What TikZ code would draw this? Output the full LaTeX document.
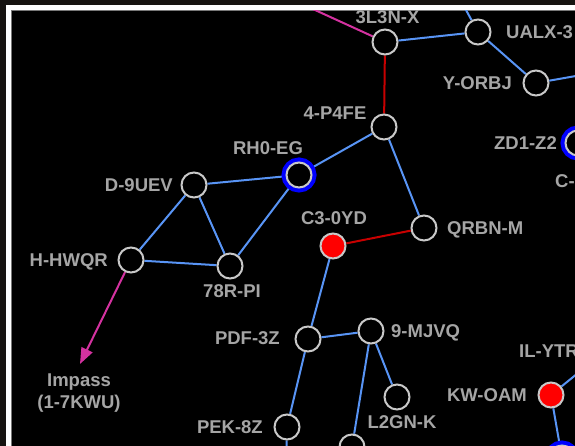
\documentclass[tikz,border=0pt]{standalone}
\usepackage{fontspec}
\setmainfont{Liberation Sans}
\usetikzlibrary{arrows.meta}
\definecolor{outerbg}{RGB}{22,19,16}
\definecolor{framegray}{RGB}{120,120,120}
\definecolor{edgeblue}{RGB}{88,148,245}
\definecolor{edgered}{RGB}{200,0,0}
\definecolor{edgemag}{RGB}{212,50,160}
\definecolor{nodegray}{RGB}{200,200,200}
\definecolor{labelgray}{RGB}{165,165,165}
\definecolor{hubblue}{RGB}{0,0,255}
\definecolor{alertred}{RGB}{255,0,0}
\pgfdeclarelayer{bg}
\pgfsetlayers{bg,main}
\tikzset{
  sys/.style={circle, draw=nodegray, line width=2pt, fill=black, minimum size=25pt, inner sep=0pt},
  alert/.style={sys, fill=alertred},
  hub/.style={sys, preaction={draw=hubblue, line width=10pt}},
  lbl/.style={text=labelgray, font=\bfseries\fontsize{18.5}{22}\selectfont, inner sep=0pt, text height=13.2pt, text depth=0pt},
  link/.style={edgeblue, line width=2pt},
  redlink/.style={edgered, line width=2pt},
  maglink/.style={edgemag, line width=2pt},
}
\begin{document}
\begin{tikzpicture}[x=1pt,y=-1pt]
\useasboundingbox (0,0) rectangle (575,446);
\clip (0,0) rectangle (575,446);
% nodes
\node[sys] (n3l3n) at (385,42) {};
\node[sys] (nualx) at (478,32) {};
\node[sys] (nyorbj) at (536,83) {};
\node[sys] (n4p4fe) at (384,127) {};
\node[hub] (nrh0) at (299,175) {};
\node[hub] (nzd1) at (578,143) {};
\node[sys] (nd9uev) at (194,185) {};
\node[sys] (nqrbn) at (424,228) {};
\node[alert] (nc30yd) at (333,246) {};
\node[sys] (nhhwqr) at (131,260) {};
\node[sys] (n78r) at (230,266) {};
\node[sys] (npdf) at (308,339) {};
\node[sys] (n9mjvq) at (371,331) {};
\node[sys] (nl2gn) at (397,397) {};
\node[sys] (npek) at (287,427) {};
\node[sys] (nbot) at (352,447) {};
\node[alert] (nkwoam) at (551,395) {};
\node[hub] (nbothub) at (562,458) {};
\node[sys] (nilytr) at (594,360) {};
\coordinate (ctop) at (280,-6);
\coordinate (cualx) at (460,-1);
\coordinate (cyorbj) at (610,70);
\coordinate (cpek) at (286,480);
\coordinate (cimpass) at (80,364);
% labels
\node[lbl] (t3l3n) at (387.5,17) {3L3N-X};
\node[lbl, anchor=west] (tualx) at (506,32) {UALX-3};
\node[lbl, anchor=east] (tyorbj) at (512,83) {Y-ORBJ};
\node[lbl] (t4p4fe) at (335,113) {4-P4FE};
\node[lbl] (trh0) at (268,148) {RH0-EG};
\node[lbl, anchor=east] (tzd1) at (557,143) {ZD1-Z2};
\node[lbl, anchor=west] (tc) at (555,181) {C-};
\node[lbl, anchor=east] (td9uev) at (173,185) {D-9UEV};
\node[lbl, anchor=west] (tqrbn) at (447,228) {QRBN-M};
\node[lbl] (tc30yd) at (334,218) {C3-0YD};
\node[lbl, anchor=east] (thhwqr) at (108,260) {H-HWQR};
\node[lbl] (t78r) at (232,291) {78R-PI};
\node[lbl, anchor=east] (tpdf) at (280,338) {PDF-3Z};
\node[lbl, anchor=west] (t9mjvq) at (391,331) {9-MJVQ};
\node[lbl] (tl2gn) at (402,422) {L2GN-K};
\node[lbl, anchor=east] (tpek) at (263,427) {PEK-8Z};
\node[lbl, anchor=west] (tilytr) at (519,351) {IL-YTR};
\node[lbl, anchor=east] (tkwoam) at (527,395) {KW-OAM};
\node[lbl, align=center] (timpass) at (79,402) {Impass\\(1-7KWU)};
% background and edges
\begin{pgfonlayer}{bg}
\fill[outerbg] (0,0) rectangle (575,446);
\fill[white] (6,5) rectangle (600,470);
\fill[framegray] (11,10) rectangle (600,470);
\fill[black] (12,11) rectangle (600,470);
\begin{scope}
\clip (12,11) rectangle (600,470);
\draw[maglink] (n3l3n) -- (ctop);
\draw[link] (nualx) -- (cualx);
\draw[link] (n3l3n) -- (nualx);
\draw[redlink] (n3l3n) -- (n4p4fe);
\draw[link] (nualx) -- (nyorbj);
\draw[link] (nyorbj) -- (cyorbj);
\draw[link] (n4p4fe) -- (nrh0);
\draw[link] (n4p4fe) -- (nqrbn);
\draw[redlink] (nqrbn) -- (nc30yd);
\draw[link] (nrh0) -- (nd9uev);
\draw[link] (nrh0) -- (n78r);
\draw[link] (nd9uev) -- (nhhwqr);
\draw[link] (nd9uev) -- (n78r);
\draw[link] (nhhwqr) -- (n78r);
\draw[link] (nc30yd) -- (npdf);
\draw[link] (npdf) -- (n9mjvq);
\draw[link] (npdf) -- (npek);
\draw[link] (n9mjvq) -- (nl2gn);
\draw[link] (n9mjvq) -- (nbot);
\draw[link] (npek) -- (cpek);
\draw[link] (nkwoam) -- (nilytr);
\draw[link] (nkwoam) -- (nbothub);
\draw[maglink, -{Triangle[length=16pt,width=12pt]}] (nhhwqr) -- (cimpass);
\end{scope}
\end{pgfonlayer}
\end{tikzpicture}
\end{document}
